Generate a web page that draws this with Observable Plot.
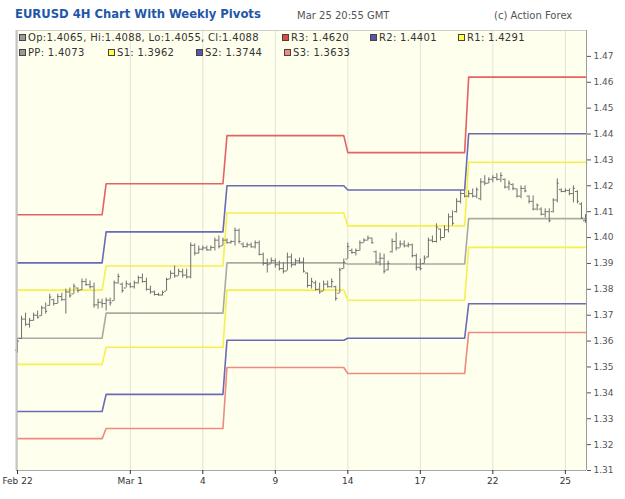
<!DOCTYPE html>
<html><head><meta charset="utf-8">
<script src="https://cdn.jsdelivr.net/npm/d3@7"></script>
<script src="https://cdn.jsdelivr.net/npm/@observablehq/plot@0.6"></script>
<style>
body{margin:0;background:#fff;font-family:"DejaVu Sans",Verdana,sans-serif;}
#wrap{position:relative;width:625px;height:499px;overflow:hidden;}
#head{position:relative;height:29px;}
.ht{position:absolute;line-height:1;white-space:nowrap;}
#title{left:15px;top:9px;font-weight:bold;font-size:11.6px;color:#1f58a8;}
#stamp{left:297px;top:10.5px;font-size:10px;color:#555;}
#copy{left:494px;top:10.5px;font-size:10px;color:#555;}
.lg{position:absolute;line-height:1;font-size:10px;color:#333;white-space:nowrap;letter-spacing:0.3px;}
.sw{position:absolute;width:5px;height:5px;border:1px solid #444;}
</style></head>
<body><div id="wrap">
<div id="head">
<div id="title" class="ht">EURUSD 4H Chart With Weekly Pivots</div>
<div id="stamp" class="ht">Mar 25 20:55 GMT</div>
<div id="copy" class="ht">(c) Action Forex</div>
</div>
<div id="chart"></div>
<div id="legend"></div>
</div>
<script>
// ---- data ----
const barOpen = [
1.3565,1.3610,1.3685,1.3665,1.3680,1.3700,1.3698,1.3728,1.3738,1.3760,
1.3745,1.3772,1.3760,1.3790,1.3782,1.3805,1.3798,1.3830,1.3818,1.3810,
1.3740,1.3750,
1.3745,1.3758,1.3756,1.3825,1.3820,1.3805,1.3820,1.3810,1.3825,1.3845,
1.3830,1.3800,1.3790,1.3780,1.3778,1.3793,1.3840,1.3862,1.3852,1.3868,
1.3855,1.3848,1.3970,1.3940,1.3955,1.3960,1.3952,1.3962,1.3990,1.3968,
1.3990,1.3980,1.3985,1.4028,1.3975,1.3965,1.3972,1.3964,1.3980,1.3935,
1.3900,1.3898,1.3910,1.3895,1.3880,1.3871,1.3925,1.3895,1.3910,1.3905,
1.3863,1.3815,1.3825,1.3800,1.3793,1.3820,1.3810,1.3810,1.3785,1.3880,
1.3917,1.3950,1.3942,1.3950,1.3980,1.3990,1.3998,1.3945,1.3905,1.3920,
1.3875,1.3945,1.3985,1.3960,1.3975,1.3968,1.3972,1.3930,1.3885,1.3900,
1.3925,1.3990,1.3985,1.4033,1.4000,1.4030,1.4080,1.4100,1.4140,1.4170,
1.4160,1.4170,1.4160,1.4150,1.4215,1.4210,1.4225,1.4232,1.4225,1.4225,
1.4195,1.4205,1.4188,1.4160,1.4190,1.4160,1.4140,1.4110,1.4110,1.4090,
1.4100,1.4100,1.4145,1.4185,1.4178,1.4182,1.4170,1.4178,1.4130,1.4065];
const barHigh = [
1.3611,1.3696,1.3708,1.3688,1.3708,1.3716,1.3735,1.3747,1.3781,1.3762,
1.3781,1.3785,1.3801,1.3805,1.3820,1.3805,1.3840,1.3840,1.3832,1.3824,
1.3762,1.3762,
1.3766,1.3766,1.3832,1.3859,1.3824,1.3832,1.3824,1.3832,1.3851,1.3859,
1.3843,1.3812,1.3793,1.3785,1.3793,1.3843,1.3871,1.3890,1.3878,1.3878,
1.3878,1.3979,1.3975,1.3967,1.3967,1.3967,1.3967,1.3998,1.4006,1.3998,
1.3995,1.3987,1.4037,1.4033,1.3979,1.3979,1.3979,1.3987,1.3987,1.3940,
1.3917,1.3921,1.3917,1.3909,1.3902,1.3940,1.3936,1.3917,1.3921,1.3921,
1.3863,1.3843,1.3832,1.3824,1.3832,1.3832,1.3840,1.3812,1.3882,1.3917,
1.3979,1.3956,1.3956,1.3987,1.3995,1.4006,1.3998,1.3948,1.3940,1.3936,
1.3909,1.3995,1.4018,1.3987,1.3987,1.3979,1.3975,1.3936,1.3917,1.3929,
1.3998,1.4006,1.4053,1.4033,1.4045,1.4091,1.4103,1.4150,1.4181,1.4181,
1.4181,1.4188,1.4192,1.4227,1.4239,1.4231,1.4239,1.4247,1.4250,1.4227,
1.4219,1.4208,1.4188,1.4200,1.4200,1.4161,1.4161,1.4130,1.4115,1.4111,
1.4111,1.4150,1.4227,1.4188,1.4188,1.4188,1.4200,1.4181,1.4134,1.4088];
const barLow = [
1.3553,1.3607,1.3657,1.3650,1.3677,1.3685,1.3696,1.3704,1.3735,1.3735,
1.3743,1.3754,1.3704,1.3766,1.3781,1.3785,1.3795,1.3812,1.3801,1.3727,
1.3723,1.3727,
1.3716,1.3735,1.3754,1.3820,1.3785,1.3805,1.3805,1.3801,1.3820,1.3824,
1.3793,1.3781,1.3774,1.3774,1.3774,1.3793,1.3840,1.3843,1.3851,1.3843,
1.3840,1.3840,1.3929,1.3936,1.3948,1.3948,1.3948,1.3948,1.3956,1.3967,
1.3975,1.3975,1.3967,1.3975,1.3960,1.3960,1.3960,1.3956,1.3929,1.3890,
1.3863,1.3898,1.3882,1.3871,1.3859,1.3871,1.3882,1.3890,1.3898,1.3863,
1.3805,1.3801,1.3793,1.3781,1.3793,1.3805,1.3805,1.3754,1.3785,1.3878,
1.3917,1.3936,1.3929,1.3948,1.3979,1.3987,1.3975,1.3898,1.3890,1.3859,
1.3871,1.3940,1.3948,1.3960,1.3960,1.3960,1.3921,1.3871,1.3871,1.3898,
1.3921,1.3979,1.3979,1.3987,1.3998,1.4018,1.4045,1.4095,1.4130,1.4153,
1.4153,1.4153,1.4150,1.4142,1.4200,1.4208,1.4212,1.4219,1.4212,1.4188,
1.4181,1.4181,1.4153,1.4150,1.4173,1.4130,1.4103,1.4103,1.4084,1.4076,
1.4057,1.4095,1.4134,1.4173,1.4173,1.4161,1.4134,1.4130,1.4072,1.4055];
const barClose = [
1.3600,1.3685,1.3665,1.3680,1.3700,1.3692,1.3728,1.3715,1.3770,1.3745,
1.3772,1.3760,1.3790,1.3775,1.3812,1.3795,1.3830,1.3818,1.3810,1.3740,
1.3750,1.3745,
1.3758,1.3748,1.3825,1.3850,1.3795,1.3822,1.3810,1.3825,1.3845,1.3830,
1.3800,1.3790,1.3780,1.3778,1.3788,1.3838,1.3862,1.3852,1.3870,1.3855,
1.3848,1.3970,1.3940,1.3955,1.3960,1.3952,1.3962,1.3990,1.3965,1.3990,
1.3980,1.3985,1.4028,1.3985,1.3965,1.3972,1.3964,1.3980,1.3935,1.3900,
1.3895,1.3912,1.3895,1.3880,1.3870,1.3925,1.3895,1.3910,1.3905,1.3870,
1.3815,1.3830,1.3800,1.3790,1.3820,1.3810,1.3830,1.3765,1.3875,1.3905,
1.3965,1.3942,1.3950,1.3980,1.3990,1.3998,1.3980,1.3905,1.3920,1.3870,
1.3900,1.3985,1.3960,1.3975,1.3968,1.3972,1.3930,1.3885,1.3880,1.3920,
1.3990,1.3985,1.4040,1.4000,1.4030,1.4080,1.4055,1.4140,1.4170,1.4160,
1.4170,1.4160,1.4185,1.4215,1.4210,1.4225,1.4232,1.4225,1.4240,1.4195,
1.4210,1.4190,1.4160,1.4190,1.4180,1.4140,1.4110,1.4125,1.4090,1.4100,
1.4065,1.4145,1.4210,1.4178,1.4182,1.4170,1.4190,1.4140,1.4075,1.4088];

// first bar index of each week
const weekStart = [0, 22, 52, 82, 112];
// weekly pivot levels, one value per week
const pivotR3 = [1.4088, 1.4208, 1.4394, 1.4328, 1.4620];
const pivotR2 = [1.3902, 1.4022, 1.4200, 1.4184, 1.4401];
const pivotR1 = [1.3797, 1.3890, 1.4095, 1.4045, 1.4291];
const pivotPP = [1.3611, 1.3708, 1.3902, 1.3898, 1.4073];
const pivotS1 = [1.3510, 1.3576, 1.3797, 1.3758, 1.3962];
const pivotS2 = [1.3328, 1.3394, 1.3603, 1.3611, 1.3744];
const pivotS3 = [1.3223, 1.3262, 1.3498, 1.3475, 1.3633];

const xTickIndex = [0, 28, 46, 64, 82, 100, 118, 136];
const xTickLabels = ["Feb 22", "Mar 1", "4", "9", "14", "17", "22", "25"];
const yTicks = [1.31,1.32,1.33,1.34,1.35,1.36,1.37,1.38,1.39,1.40,1.41,1.42,1.43,1.44,1.45,1.46,1.47];

const legendRow1 = ["Op:1.4065, Hi:1.4088, Lo:1.4055, Cl:1.4088", "R3: 1.4620", "R2: 1.4401", "R1: 1.4291"];
const legendRow2 = ["PP: 1.4073", "S1: 1.3962", "S2: 1.3744", "S3: 1.3633"];

// ---- build tables ----
const bars = barOpen.map((o, i) => ({i, o, h: barHigh[i], l: barLow[i], c: barClose[i]}));
const weekOf = i => weekStart.filter(s => s <= i).length - 1;
const series = [
  {key: "R3", vals: pivotR3, color: "#e46262"},
  {key: "R2", vals: pivotR2, color: "#6a6ab8"},
  {key: "R1", vals: pivotR1, color: "#f6f04c"},
  {key: "PP", vals: pivotPP, color: "#aaaaa2"},
  {key: "S1", vals: pivotS1, color: "#f6f04c"},
  {key: "S2", vals: pivotS2, color: "#6a6ab8"},
  {key: "S3", vals: pivotS3, color: "#f08a7c"}
];
const pivotLines = series.map(s =>
  Plot.line(bars.map(b => ({i: b.i, v: s.vals[weekOf(b.i)]})),
    {x: "i", y: "v", stroke: s.color, strokeWidth: 1.6}));

const xMin = -0.25, xMax = 141.25;
const chart = Plot.plot({
  width: 625, height: 470,
  marginTop: 1, marginBottom: 29, marginLeft: 16, marginRight: 39,
  style: {background: "transparent", fontFamily: "DejaVu Sans, Verdana, sans-serif", fontSize: "9px"},
  x: {domain: [xMin, xMax]},
  y: {domain: [1.31, 1.48]},
  marks: [
    Plot.frame({fill: "#ffffee", stroke: null}),
    Plot.ruleX(xTickIndex, {stroke: "#e2e2da"}),
    ...pivotLines,
    Plot.ruleX(bars, {x: "i", y1: "l", y2: "h", stroke: "#707070"}),
    Plot.ruleY(bars, {y: "o", x1: d => d.i - 0.5, x2: "i", stroke: "#707070"}),
    Plot.ruleY(bars, {y: "c", x1: "i", x2: d => d.i + 0.5, stroke: "#707070"}),
    Plot.ruleY([1.48], {stroke: "#cfcfc8"}),
    Plot.ruleY([1.31], {stroke: "#a8a8a8"}),
    Plot.ruleX([xMin], {stroke: "#c4c4c4", strokeWidth: 2}),
    Plot.ruleX([xMax], {stroke: "#9a9a9a"}),
    Plot.axisY({anchor: "right", ticks: yTicks, tickFormat: d => d.toFixed(2), tickSize: 4, tickPadding: 3, color: "#555", label: null}),
    Plot.axisX({ticks: xTickIndex, tickFormat: d => xTickLabels[xTickIndex.indexOf(d)], tickSize: 4, tickPadding: 3, color: "#333", label: null})
  ]
});
document.getElementById("chart").appendChild(chart);

// ---- legend overlay ----
const legend = document.getElementById("legend");
function addItem(text, fill, x, yTop) {
  const sw = document.createElement("div");
  sw.className = "sw";
  sw.style.left = x + "px"; sw.style.top = (yTop + 1) + "px"; sw.style.background = fill;
  legend.appendChild(sw);
  const t = document.createElement("div");
  t.className = "lg"; t.textContent = text;
  t.style.left = (x + 9) + "px"; t.style.top = yTop + "px";
  legend.appendChild(t);
}
const row1Fill = ["#9a9a9a", "#e24848", "#5656b0", "#ffff44"];
const row1X = [19, 282, 370, 458];
const row2Fill = ["#9a9a9a", "#ffff44", "#5656b0", "#f28a80"];
const row2X = [19, 108, 196, 284];
legendRow1.forEach((t, k) => addItem(t, row1Fill[k], row1X[k], 33));
legendRow2.forEach((t, k) => addItem(t, row2Fill[k], row2X[k], 48));
</script>
</body></html>
